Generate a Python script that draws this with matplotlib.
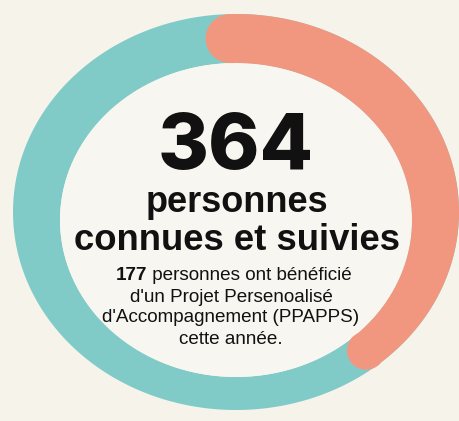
import numpy as np
import matplotlib
matplotlib.use("Agg")
import matplotlib.pyplot as plt
from matplotlib.patches import Polygon, Ellipse

# ---- data ----
segment_labels = ["Suivies (autres)", "PPAPPS"]
arc_degrees = [219, 141]          # visible share of the ring, clockwise from the top
segment_colors = ["#80cbc8", "#f2977f"]
big_number = "364"
headline = ["personnes", "connues et suivies"]
ppapps_count = "177"
sub_lines = ["personnes ont bénéficié", "d'un Projet Persenoalisé",
             "d'Accompagnement (PPAPPS)", "cette année."]

BG = "#f6f3eb"
W, H = 459, 421
fig = plt.figure(figsize=(W / 100, H / 100), dpi=100, facecolor=BG)
ax = fig.add_axes([0, 0, 1, 1])
ax.set_xlim(0, W)
ax.set_ylim(H, 0)
ax.axis("off")
ax.set_facecolor(BG)

# ring geometry (pixel units, y down)
oc, orx, ory = (236, 212), 223, 198
ic, irx, iry = (236, 220), 176, 157


def pt(c, rx, ry, t):
    t = np.radians(t)
    return np.column_stack([c[0] + rx * np.sin(t), c[1] - ry * np.cos(t)])


# full teal ring
tt = np.linspace(0, 360, 400)
outer = pt(oc, orx, ory, tt)
inner = pt(ic, irx, iry, tt)[::-1]
ax.add_patch(Polygon(np.vstack([outer, inner]), closed=True,
                     facecolor=segment_colors[0], edgecolor="none", zorder=1))
# inner disc
ax.add_patch(Ellipse(ic, 2 * irx, 2 * iry, facecolor="#f8f6f0",
                     edgecolor="none", zorder=1))

# salmon arc with rounded caps
start = -1.7
end = start + arc_degrees[1]
ta = np.linspace(start, end, 200)
o = pt(oc, orx, ory, ta)
i = pt(ic, irx, iry, ta)[::-1]
ax.add_patch(Polygon(np.vstack([o, i]), closed=True,
                     facecolor=segment_colors[1], edgecolor="none", zorder=2))
for t in (start, end):
    po = pt(oc, orx, ory, [t])[0]
    pi = pt(ic, irx, iry, [t])[0]
    mid = (po + pi) / 2
    r = np.hypot(*(po - pi)) / 2
    ax.add_patch(Ellipse(mid, 2 * r, 2 * r, facecolor=segment_colors[1],
                         edgecolor="none", zorder=2))

FONT = "Liberation Sans"
TXT = "#111111"
ax.text(236, 169, big_number, ha="center", va="baseline", fontsize=56,
        fontweight="heavy", family=["Inter", "DejaVu Sans"], color=TXT, zorder=5)
ax.text(237, 202, headline[0], ha="center", va="center", fontsize=26,
        fontweight="bold", family=FONT, color=TXT, zorder=5)
ax.text(237, 240, headline[1], ha="center", va="center", fontsize=26.3,
        fontweight="bold", family=FONT, color=TXT, zorder=5)

# first sub line: bold count + regular text, centred together
fs = 13.6
fig.canvas.draw()
r = fig.canvas.get_renderer()
t1 = ax.text(0, 276, ppapps_count, ha="left", va="center", fontsize=fs,
             fontweight="bold", family=FONT, color=TXT, zorder=5)
t2 = ax.text(0, 276, " " + sub_lines[0], ha="left", va="center", fontsize=fs,
             family=FONT, color=TXT, zorder=5)
w1 = t1.get_window_extent(r).width
w2 = t2.get_window_extent(r).width
x0 = 234 - (w1 + w2) / 2
t1.set_x(x0)
t2.set_x(x0 + w1)

for k, line in enumerate(sub_lines[1:]):
    ax.text(231, 297 + 21 * k, line, ha="center", va="center", fontsize=fs,
            family=FONT, color=TXT, zorder=5)

fig.savefig("out.png", dpi=100, facecolor=BG)
